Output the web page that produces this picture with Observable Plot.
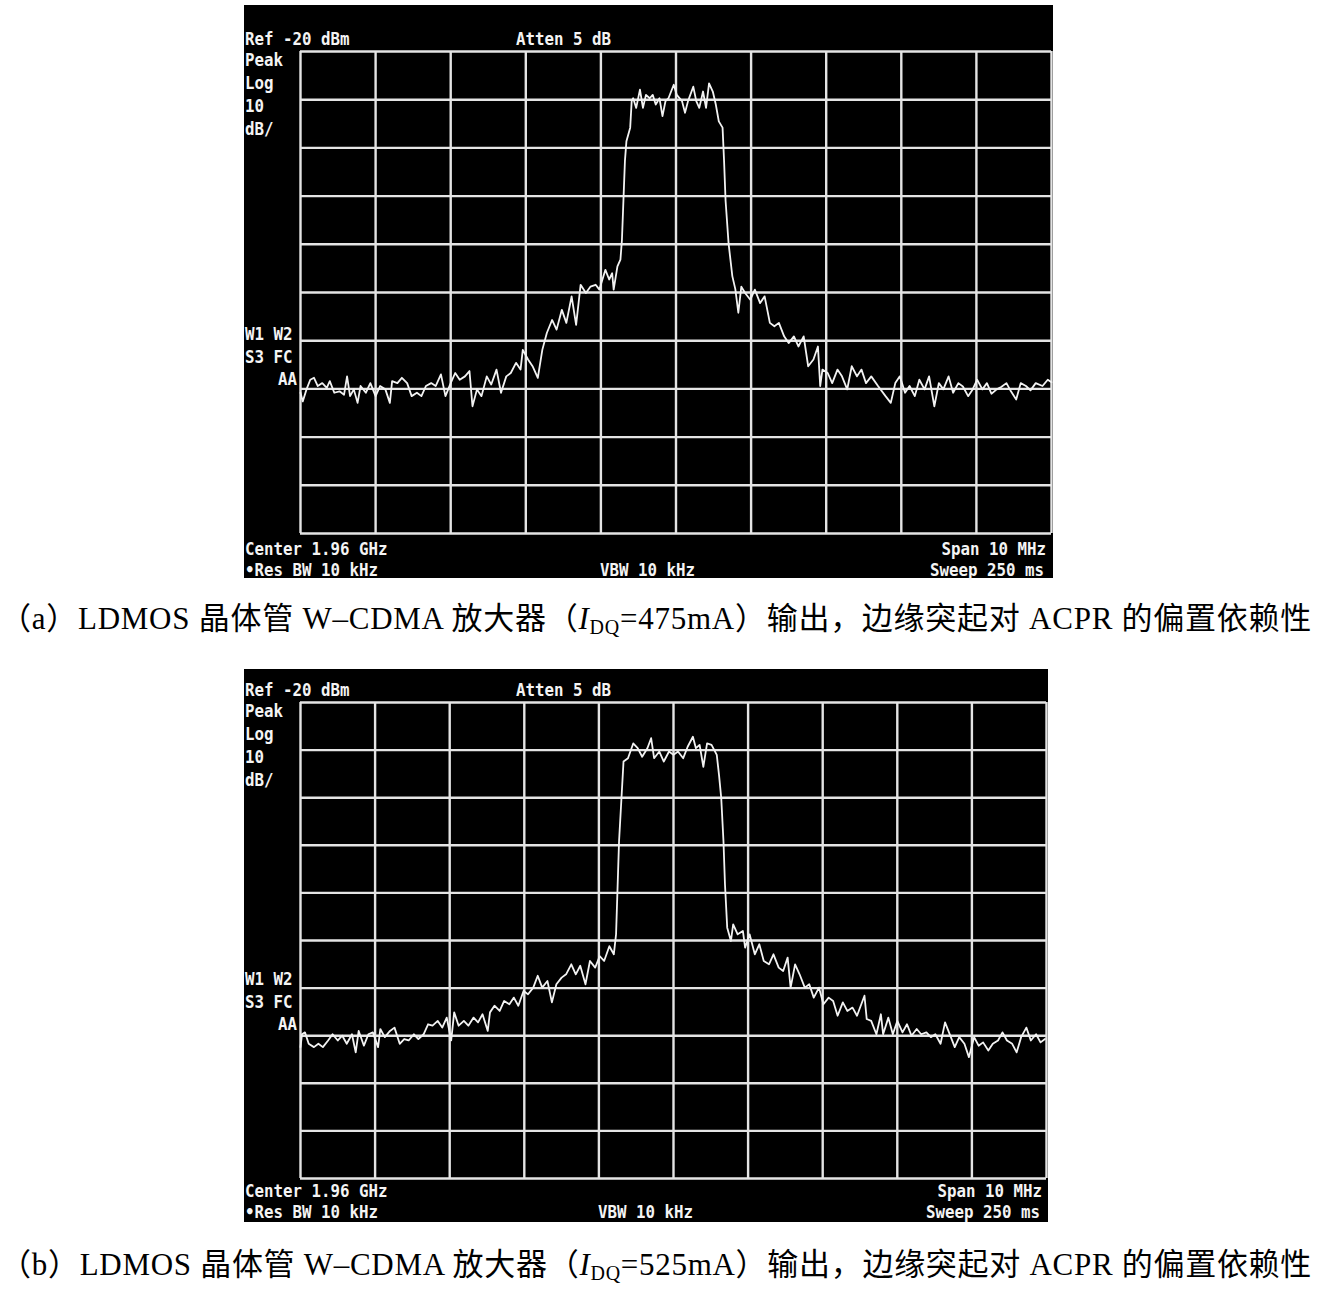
<!DOCTYPE html>
<html><head><meta charset="utf-8">
<script src="https://cdn.jsdelivr.net/npm/d3@7"></script>
<script src="https://cdn.jsdelivr.net/npm/@observablehq/plot@0.6"></script>
<style>
html,body{margin:0;padding:0;background:#fff}
body{width:1328px;height:1292px;position:relative;overflow:hidden}
.panel{position:absolute;line-height:0}
.cap{position:absolute;white-space:nowrap;font-family:"Liberation Serif","Noto Sans CJK SC",serif;font-size:31px;line-height:31px;color:#000}
.cap sub{font-size:20px;vertical-align:-5px;line-height:0}
</style></head><body>
<div id="pa" class="panel" style="left:244px;top:5px"></div>
<div id="pb" class="panel" style="left:244px;top:669px"></div>
<div class="cap" id="capA" style="left:0px;top:603px">（a）LDMOS 晶体管 W–CDMA 放大器（<i>I</i><sub>DQ</sub>=475mA）输出，边缘突起对 ACPR 的偏置依赖性</div>
<div class="cap" id="capB" style="left:0px;top:1249px">（b）LDMOS 晶体管 W–CDMA 放大器（<i>I</i><sub>DQ</sub>=525mA）输出，边缘突起对 ACPR 的偏置依赖性</div>
<script>
// Grid divisions: 1 MHz/div horizontally (span 10 MHz), 10 dB/div vertically (ref -20 dBm)
const divX = [-5,-4,-3,-2,-1,0,1,2,3,4,5];
const divY = [-20,-30,-40,-50,-60,-70,-80,-90,-100,-110,-120];

// Panel (a) IDQ = 475 mA : offset from centre (MHz) and level (dBm)
const freqA = [-5.00,-4.97,-4.92,-4.87,-4.82,-4.77,-4.71,-4.65,-4.61,-4.55,-4.48,-4.42,-4.38,-4.34,-4.29,-4.24,-4.20,-4.13,-4.07,-4.00,
  -3.94,-3.87,-3.81,-3.78,-3.71,-3.65,-3.58,-3.52,-3.45,-3.39,-3.33,-3.26,-3.20,-3.13,-3.07,-3.00,-2.94,-2.88,-2.81,-2.75,
  -2.71,-2.65,-2.59,-2.52,-2.46,-2.39,-2.33,-2.26,-2.20,-2.13,-2.07,-2.04,-1.97,-1.91,-1.84,-1.78,-1.72,-1.65,-1.59,-1.52,
  -1.46,-1.39,-1.33,-1.27,-1.20,-1.14,-1.07,-1.02,-0.94,-0.89,-0.85,-0.83,-0.78,-0.74,-0.72,-0.70,-0.68,-0.66,-0.61,-0.59,
  -0.57,-0.53,-0.48,-0.44,-0.40,-0.35,-0.31,-0.27,-0.22,-0.18,-0.14,-0.10,-0.03,0.01,0.08,0.12,0.16,0.23,0.27,0.31,
  0.36,0.40,0.44,0.49,0.53,0.57,0.62,0.64,0.66,0.70,0.75,0.79,0.83,0.87,0.92,0.99,1.05,1.12,1.18,1.25,
  1.31,1.37,1.44,1.50,1.57,1.63,1.70,1.76,1.83,1.89,1.92,1.95,2.02,2.08,2.15,2.21,2.28,2.34,2.41,2.47,
  2.53,2.60,2.69,2.79,2.86,2.92,2.98,3.05,3.11,3.18,3.24,3.31,3.37,3.44,3.50,3.56,3.63,3.69,3.76,3.82,
  3.89,3.95,4.01,4.08,4.14,4.20,4.27,4.33,4.40,4.46,4.53,4.59,4.66,4.72,4.79,4.88,4.95,5.00];
const levelA = [-90.8,-92.6,-90.1,-88.1,-87.7,-89.4,-88.8,-89.8,-88.4,-90.8,-90.5,-91.2,-87.4,-91.5,-90.1,-92.9,-89.4,-90.8,-88.8,-91.5,
  -89.4,-90.1,-92.9,-88.4,-88.8,-87.7,-88.8,-91.5,-90.8,-91.5,-89.4,-88.8,-89.4,-87.0,-91.5,-88.8,-86.7,-88.1,-87.4,-86.3,
  -93.6,-90.1,-91.5,-87.4,-89.1,-86.0,-90.8,-87.4,-86.7,-84.6,-86.0,-81.9,-83.9,-85.3,-87.7,-81.9,-78.4,-75.7,-77.7,-73.6,
  -76.3,-70.8,-76.7,-68.4,-70.1,-68.8,-68.4,-69.4,-65.3,-67.3,-66.0,-69.4,-64.6,-63.2,-59.1,-50.9,-42.7,-38.6,-35.8,-30.3,
  -29.7,-31.7,-27.9,-31.7,-29.0,-29.7,-29.0,-31.0,-29.7,-33.4,-30.3,-29.7,-26.9,-29.0,-30.3,-32.7,-30.3,-27.3,-30.3,-31.7,
  -28.3,-31.7,-26.6,-28.3,-31.0,-34.5,-35.8,-42.7,-50.9,-59.8,-66.6,-69.3,-74.2,-68.8,-70.1,-71.5,-69.4,-72.2,-70.8,-76.3,
  -77.0,-76.3,-79.1,-80.5,-79.1,-81.2,-79.1,-85.3,-83.9,-81.2,-89.4,-86.0,-86.7,-88.8,-86.0,-87.4,-90.1,-85.3,-87.4,-86.0,
  -88.8,-87.4,-89.4,-91.5,-92.9,-88.8,-87.4,-90.8,-89.4,-91.5,-88.1,-90.1,-87.4,-93.6,-88.8,-90.1,-87.4,-90.8,-88.8,-89.5,
  -91.5,-90.1,-88.1,-90.1,-88.8,-91.0,-90.1,-89.6,-88.8,-90.5,-92.2,-88.8,-89.4,-90.3,-88.8,-89.4,-88.1,-88.6];

// Panel (b) IDQ = 525 mA
const freqB = [-5.00,-4.98,-4.94,-4.89,-4.82,-4.76,-4.70,-4.63,-4.57,-4.50,-4.44,-4.38,-4.31,-4.26,-4.22,-4.15,-4.09,-4.03,-3.96,-3.93,
  -3.87,-3.80,-3.74,-3.67,-3.61,-3.55,-3.48,-3.42,-3.35,-3.29,-3.23,-3.16,-3.10,-3.04,-2.98,-2.94,-2.88,-2.81,-2.75,-2.68,
  -2.62,-2.56,-2.49,-2.46,-2.40,-2.33,-2.27,-2.20,-2.14,-2.08,-2.01,-1.95,-1.88,-1.82,-1.76,-1.69,-1.63,-1.57,-1.50,-1.44,
  -1.37,-1.31,-1.25,-1.18,-1.12,-1.05,-0.99,-0.93,-0.86,-0.80,-0.77,-0.73,-0.70,-0.67,-0.61,-0.54,-0.48,-0.42,-0.35,-0.30,
  -0.26,-0.19,-0.13,-0.06,0.00,0.06,0.13,0.19,0.26,0.30,0.35,0.40,0.45,0.51,0.58,0.61,0.64,0.67,0.69,0.72,
  0.77,0.80,0.86,0.93,0.96,1.02,1.09,1.15,1.21,1.28,1.34,1.41,1.47,1.53,1.57,1.63,1.69,1.76,1.82,1.88,
  1.95,2.01,2.08,2.14,2.20,2.27,2.33,2.40,2.46,2.56,2.59,2.65,2.72,2.78,2.81,2.88,2.94,3.00,3.07,3.13,
  3.19,3.26,3.32,3.39,3.45,3.51,3.58,3.64,3.71,3.77,3.83,3.90,3.96,4.03,4.09,4.15,4.22,4.28,4.35,4.41,
  4.47,4.54,4.60,4.66,4.73,4.79,4.86,4.92,4.98];
const levelB = [-92.4,-89.7,-89.3,-91.7,-92.4,-91.7,-92.4,-91.0,-89.7,-91.0,-90.0,-91.7,-89.7,-93.5,-89.0,-92.1,-89.7,-89.3,-92.4,-88.6,
  -90.3,-89.0,-88.3,-91.7,-90.7,-91.0,-89.7,-90.7,-89.7,-87.6,-87.9,-86.9,-88.3,-86.2,-91.0,-85.1,-87.9,-86.9,-87.9,-86.2,
  -87.2,-85.5,-89.0,-85.1,-83.7,-84.8,-82.7,-83.4,-82.0,-83.7,-80.6,-81.3,-79.9,-77.4,-79.9,-78.5,-83.0,-79.2,-77.8,-77.1,
  -75.0,-77.1,-75.3,-79.2,-74.3,-75.7,-73.3,-74.3,-71.2,-72.9,-68.7,-49.2,-40.8,-32.4,-31.7,-28.6,-29.6,-31.4,-29.6,-27.5,
  -31.7,-30.3,-32.4,-30.3,-31.0,-30.3,-31.7,-29.3,-27.2,-29.6,-28.9,-33.5,-28.6,-28.9,-31.0,-35.2,-40.1,-49.2,-58.2,-67.3,
  -70.1,-66.6,-68.7,-68.0,-71.5,-68.7,-72.9,-70.8,-74.3,-75.0,-72.9,-75.7,-76.4,-73.6,-79.9,-75.0,-77.1,-79.9,-79.2,-82.0,
  -79.9,-83.4,-82.0,-82.7,-85.8,-83.0,-84.8,-84.1,-85.8,-81.6,-86.5,-86.9,-89.7,-85.5,-89.7,-86.2,-89.7,-86.9,-89.3,-87.6,
  -90.0,-88.6,-89.7,-89.3,-90.3,-89.7,-91.7,-87.2,-90.0,-92.4,-90.3,-91.7,-94.5,-90.3,-92.1,-91.4,-93.1,-91.7,-91.0,-89.3,
  -91.0,-91.7,-93.5,-90.3,-88.3,-91.0,-89.7,-91.4,-90.7];

// Instrument annotations
const annoA = {top:["Ref -20 dBm","Atten 5 dB"], left:["Peak","Log","10","dB/"], marker:["W1 W2","S3 FC","AA"],
  bottomLeft:["Center 1.96 GHz","•Res BW 10 kHz"], bottomMid:"VBW 10 kHz", bottomRight:["Span 10 MHz","Sweep 250 ms"]};
const annoB = annoA;

const gridColor = "#e4e4e4";
const traceColor = "#f2f2f2";

function spectrum(freq, level, opt) {
  const data = freq.map((f, i) => ({f, v: level[i]}));
  return Plot.plot({
    width: opt.w, height: opt.h,
    marginLeft: opt.ml, marginRight: opt.mr, marginTop: opt.mt, marginBottom: opt.mb,
    x: {domain: [-5, 5], axis: null},
    y: {domain: [-120, -20], axis: null},
    style: {background: "#000", overflow: "visible"},
    marks: [
      Plot.ruleX(divX, {stroke: gridColor, strokeWidth: 2.4}),
      Plot.ruleY(divY, {stroke: gridColor, strokeWidth: 2.4}),
      Plot.line(data, {x: "f", y: "v", stroke: traceColor, strokeWidth: 1.8, strokeLinejoin: "round"})
    ]
  });
}

function label(svg, str, x, y, anchor) {
  return d3.select(svg).append("text")
    .attr("x", x).attr("y", y)
    .attr("text-anchor", anchor || "start")
    .attr("fill", "#f4f4f4")
    .attr("font-family", "'DejaVu Sans Mono', 'Liberation Mono', monospace")
    .attr("font-weight", "bold")
    .attr("font-size", 18)
    .attr("textLength", str.length * 9.5)
    .attr("lengthAdjust", "spacingAndGlyphs")
    .text(str);
}

function annotate(svg, a, p) {
  label(svg, a.top[0], 1, p.top);
  label(svg, a.top[1], 272, p.top);
  a.left.forEach((s, i) => label(svg, s, 1, p.left + i * 23));
  label(svg, a.marker[0], 1, p.marker);
  label(svg, a.marker[1], 1, p.marker + 22.5);
  label(svg, a.marker[2], 53, p.marker + 45, "end");
  label(svg, a.bottomLeft[0], 1, p.bot);
  label(svg, a.bottomLeft[1], 1, p.bot + 21);
  label(svg, a.bottomMid, p.vbw, p.bot + 21);
  label(svg, a.bottomRight[0], p.right, p.bot, "end");
  label(svg, a.bottomRight[1], p.right - 2, p.bot + 21, "end");
}

const svgA = spectrum(freqA, levelA, {w: 809, h: 573, ml: 56, mr: 2, mt: 46, mb: 45});
annotate(svgA, annoA, {top: 40, left: 61, marker: 335, bot: 550, vbw: 356, right: 802});
document.getElementById("pa").appendChild(svgA);

const svgB = spectrum(freqB, levelB, {w: 804, h: 553, ml: 56, mr: 2, mt: 33, mb: 44});
annotate(svgB, annoB, {top: 27, left: 48, marker: 316, bot: 528, vbw: 354, right: 798});
document.getElementById("pb").appendChild(svgB);

// stretch each caption so it spans the page width like the reference
for (const id of ["capA", "capB"]) {
  const el = document.getElementById(id);
  const w = el.getBoundingClientRect().width;
  const n = el.textContent.length;
  const target = 1312;
  el.style.letterSpacing = ((target - w) / n).toFixed(3) + "px";
}
</script>
</body></html>
